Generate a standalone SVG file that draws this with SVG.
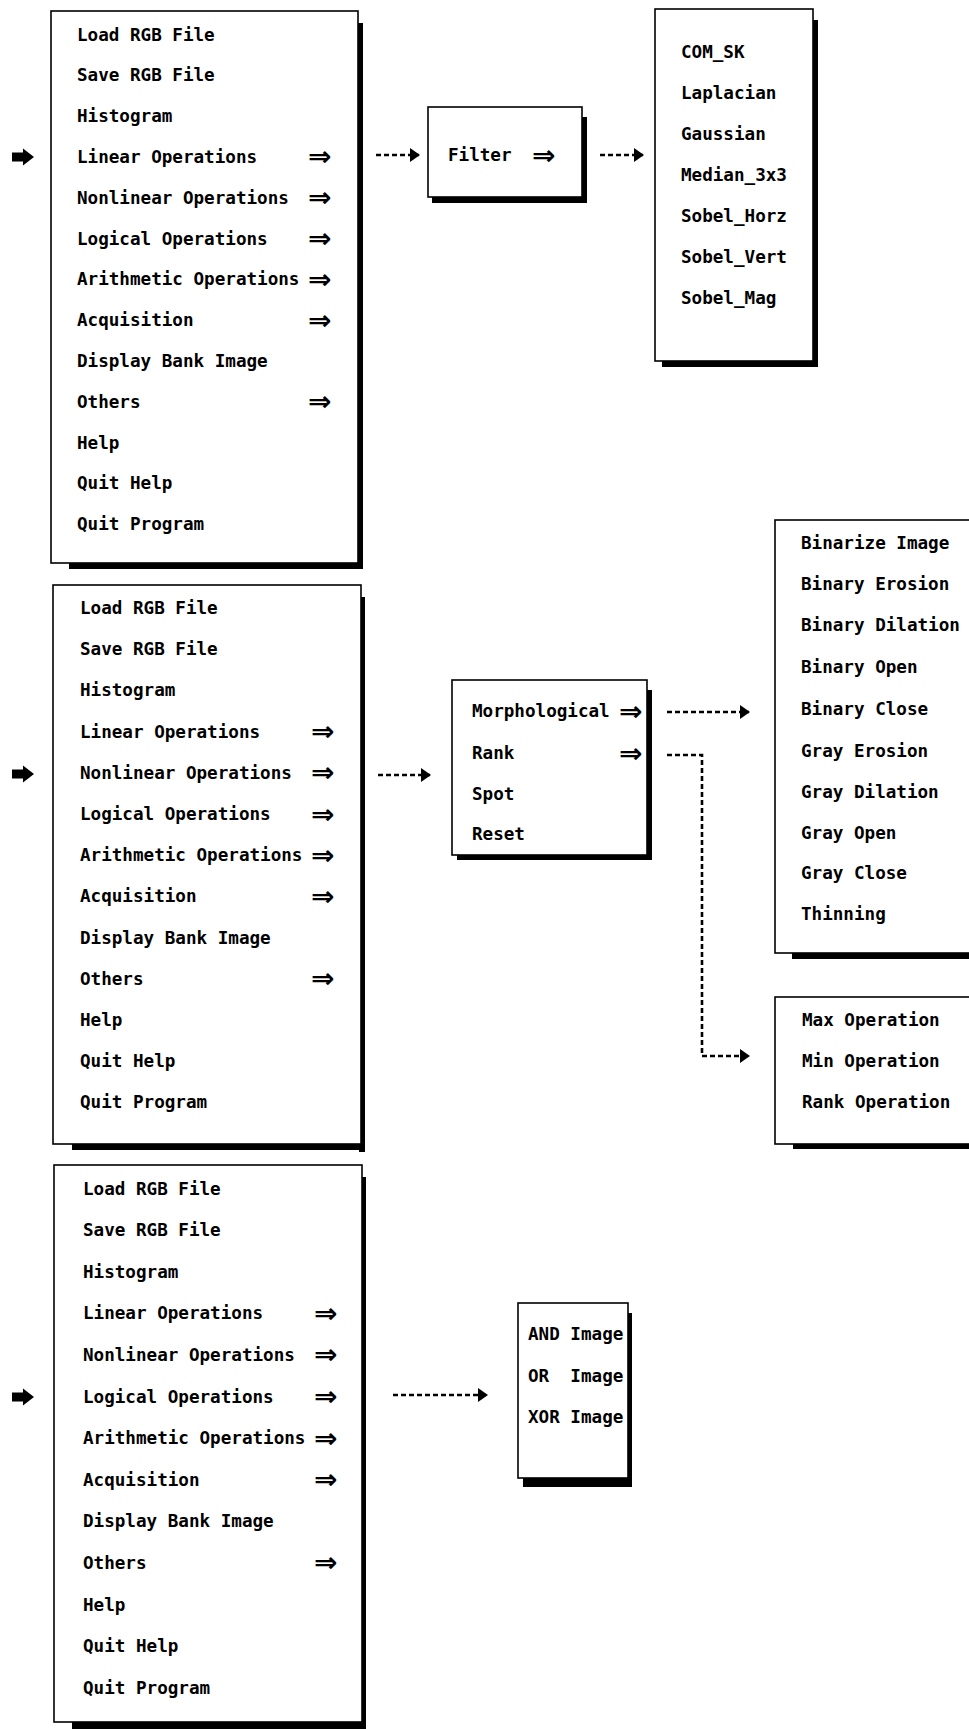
<svg xmlns="http://www.w3.org/2000/svg" width="969" height="1729" viewBox="0 0 969 1729">
  <style>
    .box { fill: #fff; stroke: #000; stroke-width: 1.6; }
    .shadow { fill: #000; }
    .item { font-family: "DejaVu Sans Mono", "Liberation Mono", monospace; font-weight: bold; font-size: 17.6px; fill: #000; }
    .sub { font-family: "DejaVu Sans", "Liberation Sans", sans-serif; font-weight: bold; font-size: 28px; fill: #000; }
    .conn { fill: none; stroke: #000; stroke-width: 2.6; stroke-dasharray: 5 3; }
    .ptr { fill: #000; }
  </style>
  <defs>
    <marker id="head" viewBox="0 0 10 14" refX="9" refY="7" markerWidth="10" markerHeight="14" markerUnits="userSpaceOnUse" orient="auto">
      <path d="M0,0 L10,7 L0,14 z" fill="#000"/>
    </marker>
    <path id="pointer" d="M0,-4.5 L11,-4.5 L11,-8.5 L22,0 L11,8.5 L11,4.5 L0,4.5 z"/>
  </defs>

  <!-- Main menu: Linear Operations selected -->
  <g id="menu-linear">
    <use href="#pointer" class="ptr" x="12" y="157"/>
    <rect class="shadow" x="357" y="23" width="6" height="546"/>
    <rect class="shadow" x="69" y="561" width="294" height="8"/>
    <rect class="box" x="51" y="11" width="307" height="552"/>
    <text class="item" x="77" y="40.5">Load RGB File</text>
    <text class="item" x="77" y="81.3">Save RGB File</text>
    <text class="item" x="77" y="122.1">Histogram</text>
    <text class="item" x="77" y="162.9">Linear Operations</text>
    <text class="item" x="77" y="203.7">Nonlinear Operations</text>
    <text class="item" x="77" y="244.5">Logical Operations</text>
    <text class="item" x="77" y="285.3">Arithmetic Operations</text>
    <text class="item" x="77" y="326.1">Acquisition</text>
    <text class="item" x="77" y="366.9">Display Bank Image</text>
    <text class="item" x="77" y="407.7">Others</text>
    <text class="item" x="77" y="448.5">Help</text>
    <text class="item" x="77" y="489.3">Quit Help</text>
    <text class="item" x="77" y="530.1">Quit Program</text>
    <text class="sub" x="308" y="166.4">⇒</text>
    <text class="sub" x="308" y="207.2">⇒</text>
    <text class="sub" x="308" y="248">⇒</text>
    <text class="sub" x="308" y="288.8">⇒</text>
    <text class="sub" x="308" y="329.6">⇒</text>
    <text class="sub" x="308" y="411.2">⇒</text>
  </g>

  <g id="filter">
    <rect class="shadow" x="581" y="117" width="6" height="86"/>
    <rect class="shadow" x="432" y="196" width="155" height="7"/>
    <rect class="box" x="428" y="107" width="154" height="90"/>
    <text class="item" x="448" y="161">Filter</text>
    <text class="sub" x="532" y="164.5">⇒</text>
  </g>

  <g id="filter-list">
    <rect class="shadow" x="812" y="20" width="6" height="347"/>
    <rect class="shadow" x="662" y="360" width="156" height="7"/>
    <rect class="box" x="655" y="9" width="158" height="352"/>
    <text class="item" x="681" y="58">COM_SK</text>
    <text class="item" x="681" y="99">Laplacian</text>
    <text class="item" x="681" y="140">Gaussian</text>
    <text class="item" x="681" y="181">Median_3x3</text>
    <text class="item" x="681" y="222">Sobel_Horz</text>
    <text class="item" x="681" y="263">Sobel_Vert</text>
    <text class="item" x="681" y="304">Sobel_Mag</text>
  </g>

  <!-- Main menu: Nonlinear Operations selected -->
  <g id="menu-nonlinear">
    <use href="#pointer" class="ptr" x="12" y="774"/>
    <rect class="shadow" x="359" y="597" width="6" height="555"/>
    <rect class="shadow" x="72" y="1142" width="293" height="8"/>
    <rect class="box" x="53" y="585" width="308" height="559"/>
    <text class="item" x="80" y="614">Load RGB File</text>
    <text class="item" x="80" y="655.2">Save RGB File</text>
    <text class="item" x="80" y="696.4">Histogram</text>
    <text class="item" x="80" y="737.6">Linear Operations</text>
    <text class="item" x="80" y="778.8">Nonlinear Operations</text>
    <text class="item" x="80" y="820">Logical Operations</text>
    <text class="item" x="80" y="861.2">Arithmetic Operations</text>
    <text class="item" x="80" y="902.4">Acquisition</text>
    <text class="item" x="80" y="943.6">Display Bank Image</text>
    <text class="item" x="80" y="984.8">Others</text>
    <text class="item" x="80" y="1026">Help</text>
    <text class="item" x="80" y="1067.2">Quit Help</text>
    <text class="item" x="80" y="1108.4">Quit Program</text>
    <text class="sub" x="311" y="741.1">⇒</text>
    <text class="sub" x="311" y="782.3">⇒</text>
    <text class="sub" x="311" y="823.5">⇒</text>
    <text class="sub" x="311" y="864.7">⇒</text>
    <text class="sub" x="311" y="905.9">⇒</text>
    <text class="sub" x="311" y="988.3">⇒</text>
  </g>

  <g id="nonlinear-list">
    <rect class="shadow" x="646" y="690" width="6" height="170"/>
    <rect class="shadow" x="457" y="853" width="195" height="7"/>
    <rect class="box" x="452" y="680" width="195" height="175"/>
    <text class="item" x="472" y="717">Morphological</text>
    <text class="item" x="472" y="759">Rank</text>
    <text class="item" x="472" y="800">Spot</text>
    <text class="item" x="472" y="840">Reset</text>
    <text class="sub" x="619" y="720.5">⇒</text>
    <text class="sub" x="619" y="762.5">⇒</text>
  </g>

  <g id="morphological-list">
    <rect class="shadow" x="792" y="951" width="177" height="8"/>
    <rect class="box" x="775" y="520" width="300" height="433"/>
    <text class="item" x="801" y="549">Binarize Image</text>
    <text class="item" x="801" y="590">Binary Erosion</text>
    <text class="item" x="801" y="631">Binary Dilation</text>
    <text class="item" x="801" y="673">Binary Open</text>
    <text class="item" x="801" y="715">Binary Close</text>
    <text class="item" x="801" y="757">Gray Erosion</text>
    <text class="item" x="801" y="798">Gray Dilation</text>
    <text class="item" x="801" y="839">Gray Open</text>
    <text class="item" x="801" y="879">Gray Close</text>
    <text class="item" x="801" y="920">Thinning</text>
  </g>

  <g id="rank-list">
    <rect class="shadow" x="793" y="1141" width="176" height="8"/>
    <rect class="box" x="775" y="997" width="300" height="147"/>
    <text class="item" x="802" y="1026">Max Operation</text>
    <text class="item" x="802" y="1067">Min Operation</text>
    <text class="item" x="802" y="1108">Rank Operation</text>
  </g>

  <!-- Main menu: Logical Operations selected -->
  <g id="menu-logical">
    <use href="#pointer" class="ptr" x="12" y="1397"/>
    <rect class="shadow" x="360" y="1177" width="6" height="552"/>
    <rect class="shadow" x="72" y="1720" width="294" height="9"/>
    <rect class="box" x="54" y="1165" width="308" height="557"/>
    <text class="item" x="83" y="1194.5">Load RGB File</text>
    <text class="item" x="83" y="1236.1">Save RGB File</text>
    <text class="item" x="83" y="1277.7">Histogram</text>
    <text class="item" x="83" y="1319.3">Linear Operations</text>
    <text class="item" x="83" y="1360.9">Nonlinear Operations</text>
    <text class="item" x="83" y="1402.5">Logical Operations</text>
    <text class="item" x="83" y="1444.1">Arithmetic Operations</text>
    <text class="item" x="83" y="1485.7">Acquisition</text>
    <text class="item" x="83" y="1527.3">Display Bank Image</text>
    <text class="item" x="83" y="1568.9">Others</text>
    <text class="item" x="83" y="1610.5">Help</text>
    <text class="item" x="83" y="1652.1">Quit Help</text>
    <text class="item" x="83" y="1693.7">Quit Program</text>
    <text class="sub" x="314" y="1322.8">⇒</text>
    <text class="sub" x="314" y="1364.4">⇒</text>
    <text class="sub" x="314" y="1406">⇒</text>
    <text class="sub" x="314" y="1447.6">⇒</text>
    <text class="sub" x="314" y="1489.2">⇒</text>
    <text class="sub" x="314" y="1572.4">⇒</text>
  </g>

  <g id="logical-list">
    <rect class="shadow" x="627" y="1313" width="5" height="174"/>
    <rect class="shadow" x="523" y="1477" width="109" height="10"/>
    <rect class="box" x="518" y="1303" width="110" height="175"/>
    <text class="item" x="528" y="1340">AND Image</text>
    <text class="item" x="528" y="1382" xml:space="preserve">OR  Image</text>
    <text class="item" x="528" y="1423">XOR Image</text>
  </g>

  <g id="connectors">
    <path class="conn" d="M376,155 H419" marker-end="url(#head)"/>
    <path class="conn" d="M600,155 H643" marker-end="url(#head)"/>
    <path class="conn" d="M378,775 H430" marker-end="url(#head)"/>
    <path class="conn" d="M667,712 H749" marker-end="url(#head)"/>
    <path class="conn" d="M667,755 H702 V1056 H749" marker-end="url(#head)"/>
    <path class="conn" d="M393,1395 H487" marker-end="url(#head)"/>
  </g>
</svg>
